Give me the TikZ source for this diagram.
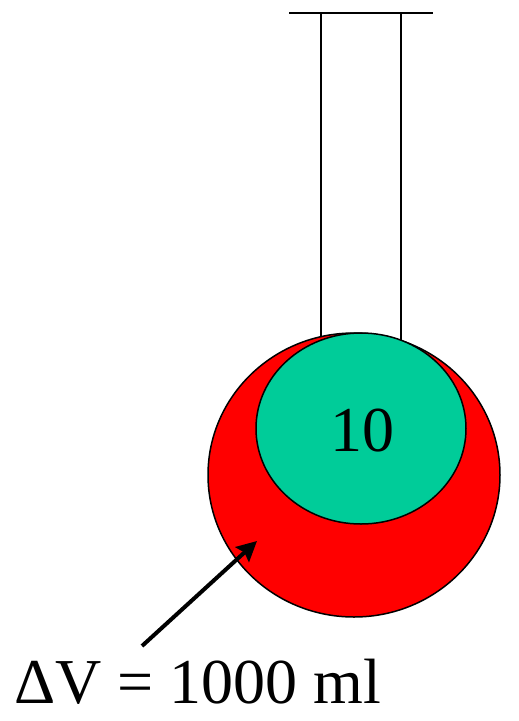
\documentclass[tikz,border=0pt]{standalone}
\usepackage{fontspec}
\setmainfont{Liberation Serif}
\usetikzlibrary{arrows.meta}
\definecolor{bulbred}{RGB}{255,0,0}
\definecolor{bulbgreen}{RGB}{0,204,153}
\tikzset{
  outline/.style={draw=black,line width=1.5pt},
  bigtext/.style={font=\fontsize{64}{76}\selectfont,inner sep=0pt}
}
\begin{document}
\begin{tikzpicture}[x=1pt,y=-1pt]
\useasboundingbox (0,0) rectangle (519,721);
% neck of the flask
\draw[line width=2pt] (289,13) -- (433,13);
\draw[line width=1.5pt] (321,13) -- (321,360);
\draw[line width=1.5pt] (401,13) -- (401,360);

% bulb
\draw[outline,fill=bulbred] (354,475) ellipse [x radius=146,y radius=142];
\draw[outline,fill=bulbgreen] (361,428.5) ellipse [x radius=105,y radius=95.5];
\node[bigtext] (inner) at (362,431) {10};

% label and arrow
\node[bigtext,anchor=base west] (dv) at (14,703) {ΔV = 1000 ml};
\coordinate (tail) at (142,646);
\coordinate (tip) at (257,541);
\draw[line width=4pt,-{Stealth[length=20pt,width=20pt,inset=3pt]}] (tail) -- (tip);
\end{tikzpicture}
\end{document}
